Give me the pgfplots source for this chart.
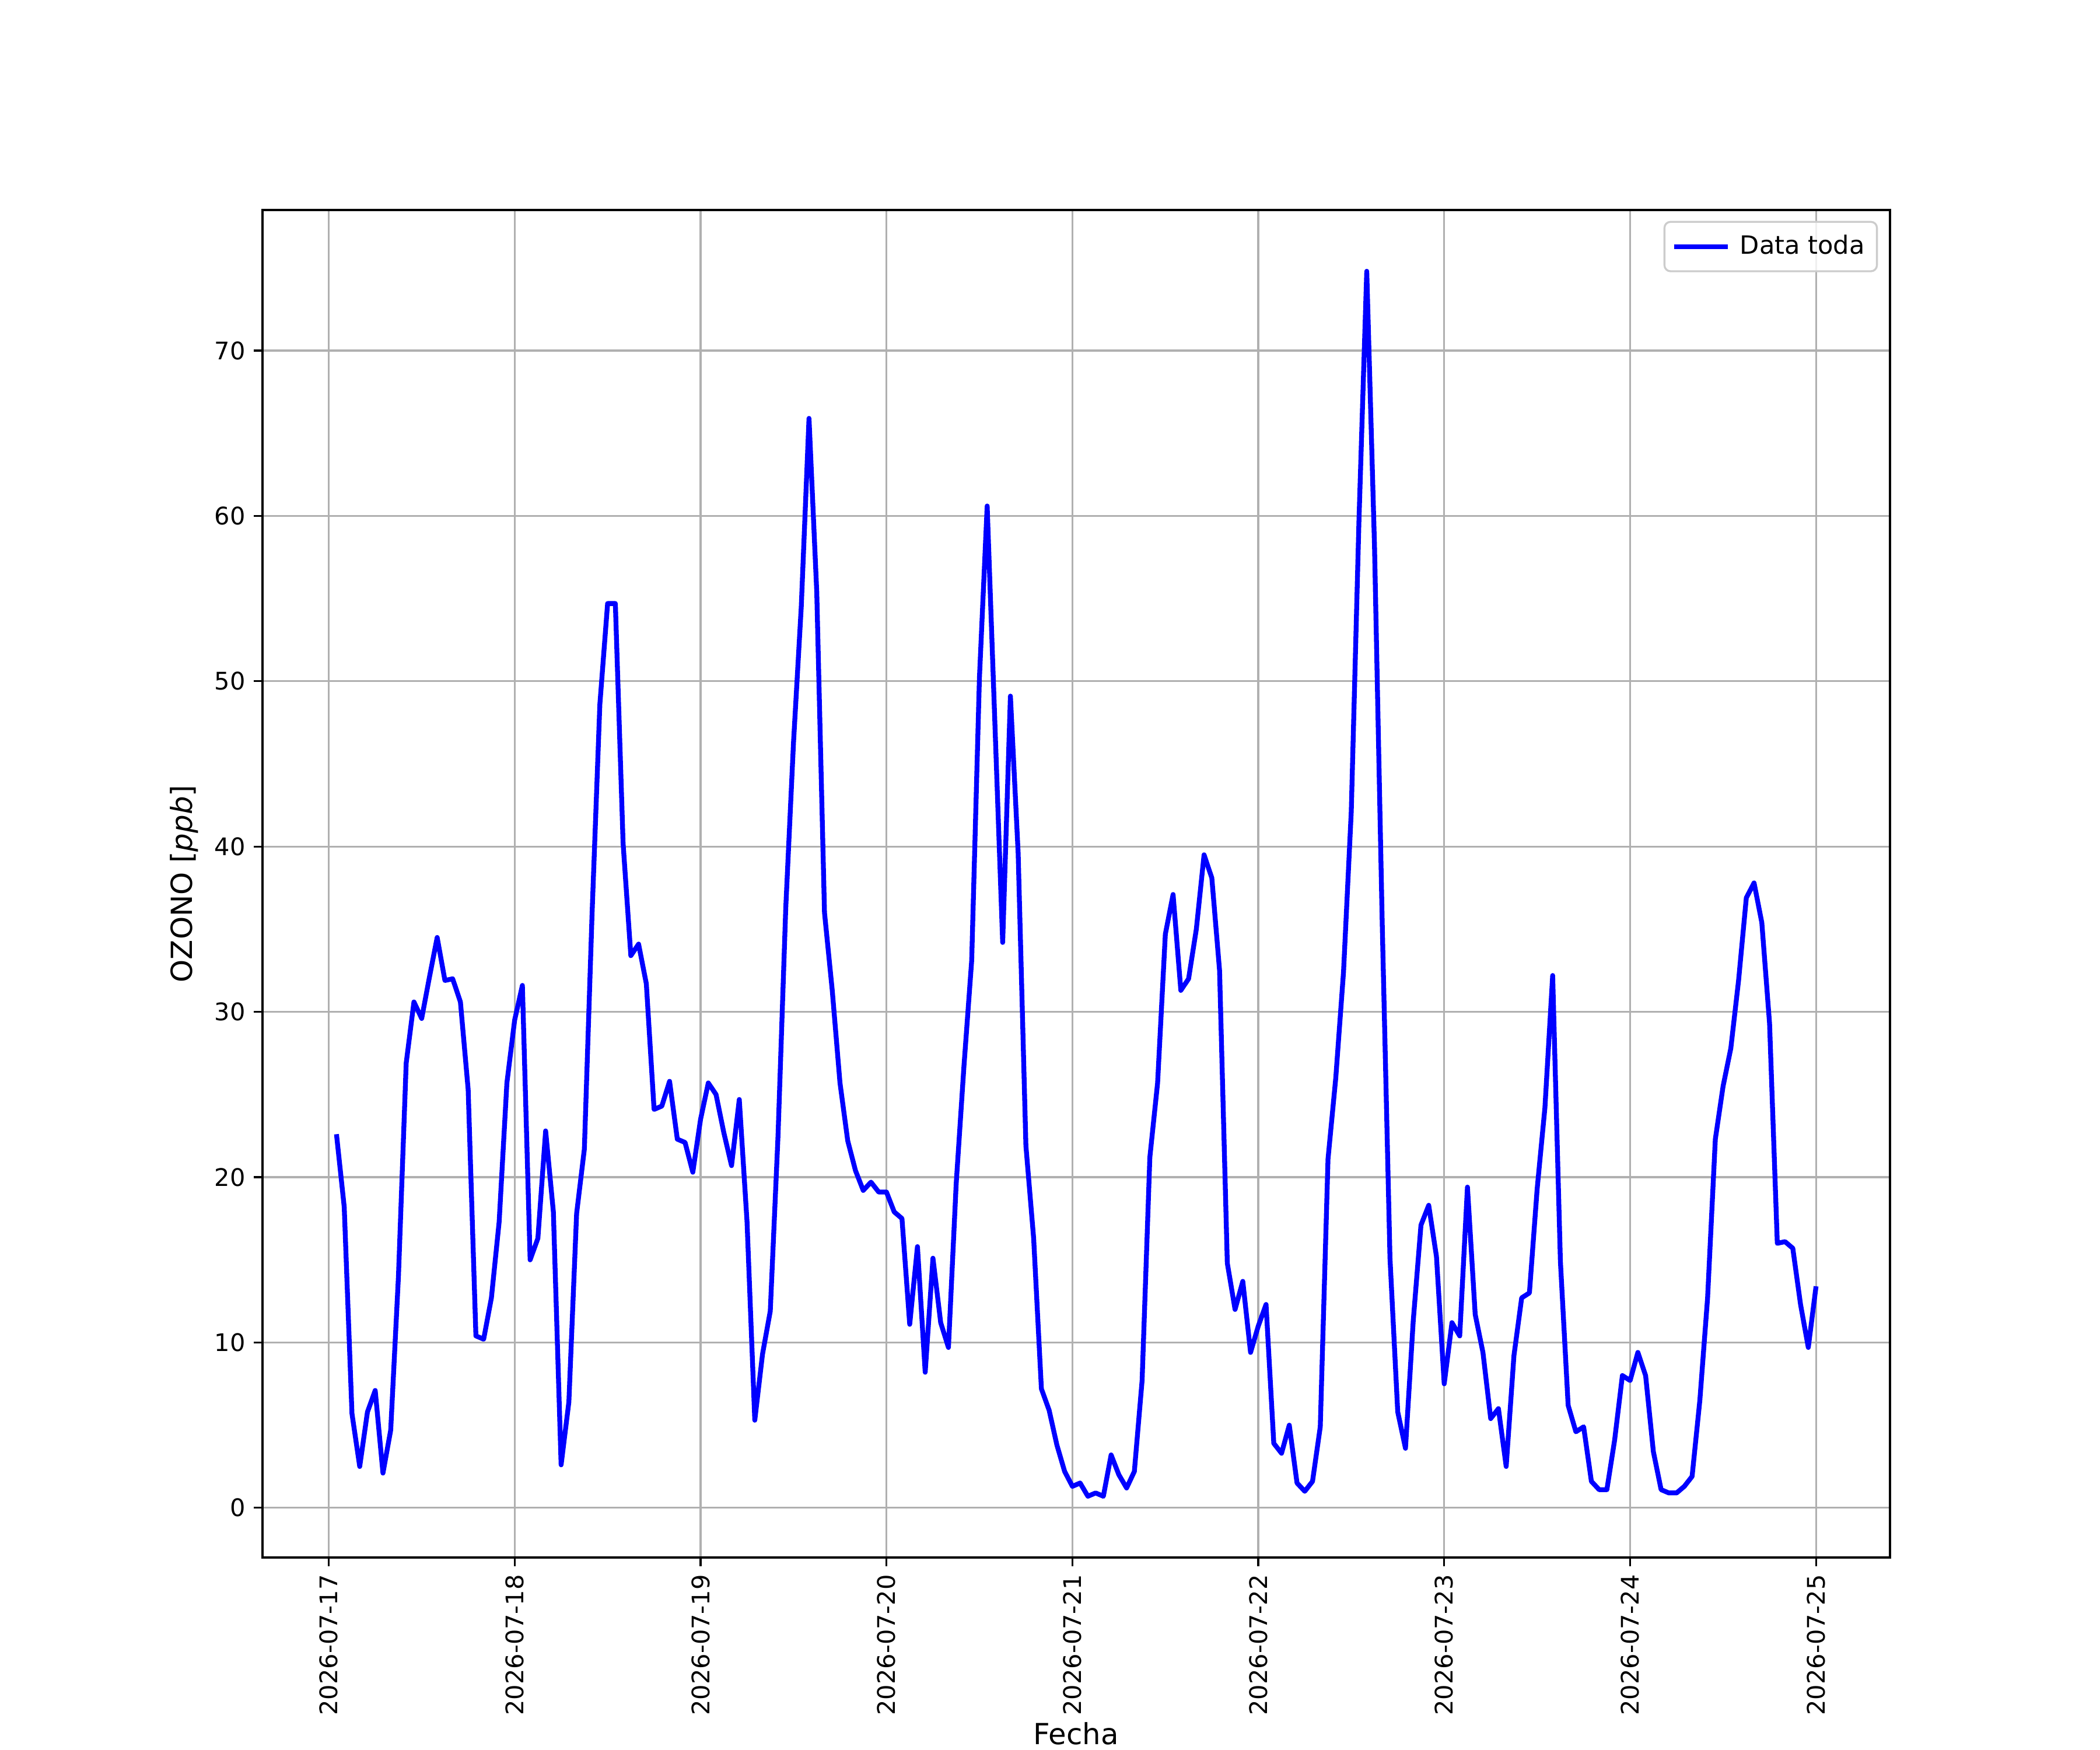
\documentclass[border=0pt]{standalone}
\usepackage{pgfplots}
\pgfplotsset{compat=1.18}
\usepackage{pgfplotstable}
\usepackage{fontspec}
\setmainfont{DejaVu Sans}
\definecolor{gridgray}{HTML}{B0B0B0}
\pgfplotstableread{
h v
1 22.6
2 18.2
3 5.7
4 2.5
5 5.8
6 7.1
7 2.1
8 4.7
9 14.0
10 26.9
11 30.6
12 29.6
13 32.1
14 34.5
15 31.9
16 32.0
17 30.6
18 25.3
19 10.4
20 10.2
21 12.7
22 17.3
23 25.7
24 29.5
25 31.6
26 15.0
27 16.3
28 22.8
29 17.9
30 2.6
31 6.4
32 17.8
33 21.7
34 36.0
35 48.6
36 54.7
37 54.7
38 40.2
39 33.4
40 34.1
41 31.7
42 24.1
43 24.3
44 25.8
45 22.3
46 22.1
47 20.3
48 23.5
49 25.7
50 25.0
51 22.7
52 20.7
53 24.7
54 17.3
55 5.3
56 9.3
57 11.9
58 22.5
59 36.3
60 46.3
61 54.5
62 65.9
63 55.4
64 36.0
65 31.3
66 25.7
67 22.2
68 20.4
69 19.2
70 19.7
71 19.1
72 19.1
73 17.9
74 17.5
75 11.1
76 15.8
77 8.2
78 15.1
79 11.2
80 9.7
81 19.6
82 26.7
83 33.1
84 50.2
85 60.6
86 47.4
87 34.2
88 49.1
89 39.6
90 21.9
91 16.3
92 7.2
93 5.9
94 3.8
95 2.2
96 1.3
97 1.5
98 0.7
99 0.9
100 0.7
101 3.2
102 2.0
103 1.2
104 2.2
105 7.7
106 21.2
107 25.7
108 34.7
109 37.1
110 31.3
111 32.0
112 35.0
113 39.5
114 38.1
115 32.5
116 14.8
117 12.0
118 13.7
119 9.4
120 11.0
121 12.3
122 3.9
123 3.3
124 5.0
125 1.5
126 1.0
127 1.6
128 4.9
129 21.1
130 26.0
131 32.4
132 42.1
133 59.8
134 74.8
135 58.2
136 35.3
137 15.1
138 5.8
139 3.6
140 11.3
141 17.1
142 18.3
143 15.2
144 7.5
145 11.2
146 10.4
147 19.4
148 11.7
149 9.4
150 5.4
151 6.0
152 2.5
153 9.2
154 12.7
155 13.0
156 19.3
157 24.2
158 32.2
159 14.9
160 6.2
161 4.6
162 4.9
163 1.6
164 1.1
165 1.1
166 4.1
167 8.0
168 7.7
169 9.4
170 8.0
171 3.4
172 1.1
173 0.9
174 0.9
175 1.3
176 1.9
177 6.5
178 12.7
179 22.3
180 25.5
181 27.8
182 31.9
183 36.9
184 37.8
185 35.4
186 29.3
187 16.0
188 16.1
189 15.7
190 12.3
191 9.7
192 13.4
}\ozono
\begin{document}
\fontsize{10}{12}\selectfont
\begin{tikzpicture}
\path[use as bounding box] (0,0) rectangle (12in,10in);
\begin{axis}[
  at={(1.5in,1.1in)}, anchor=south west,
  width=9.3in, height=7.7in, scale only axis,
  xmin=-8.55, xmax=201.55,
  ymin=-3.005, ymax=78.505,
  xtick={0,24,48,72,96,120,144,168,192},
  xticklabels={2026-07-17,2026-07-18,2026-07-19,2026-07-20,2026-07-21,2026-07-22,2026-07-23,2026-07-24,2026-07-25},
  ytick={0,10,20,30,40,50,60,70},
  /pgf/number format/assume math mode=true,
  xticklabel style={rotate=90, anchor=east, font=\fontsize{10}{12}\selectfont},
  yticklabel style={font=\fontsize{10}{12}\selectfont},
  tick align=outside,
  major tick length=3.5pt,
  tick style={black, line width=0.8pt},
  axis line style={black, line width=0.8pt},
  grid=major,
  major grid style={gridgray, line width=0.8pt},
  xtick pos=bottom, ytick pos=left,
  xlabel={Fecha},
  ylabel={OZONO [\textit{ppb}]},
  label style={font=\fontsize{12}{14}\selectfont},
  xlabel style={yshift=4pt},
  legend style={at={(1,1)}, anchor=north east, xshift=-5pt, yshift=-4.5pt,
    draw=black!20, line width=0.8pt, fill=white, fill opacity=0.8, text opacity=1,
    rounded corners=2.5pt, font=\fontsize{10.4}{12}\selectfont,
    inner xsep=3pt, inner ysep=3.5pt,
    nodes={inner sep=2pt}},
  legend cell align=left,
  legend image code/.code={\draw[#1] (0cm,0cm) -- (0.78cm,0cm);},
]
\addplot[blue, line width=2pt, line join=round] table[x=h, y=v] {\ozono};
\addlegendentry{\hspace{2pt}Data toda}
\end{axis}
\end{tikzpicture}
\end{document}
